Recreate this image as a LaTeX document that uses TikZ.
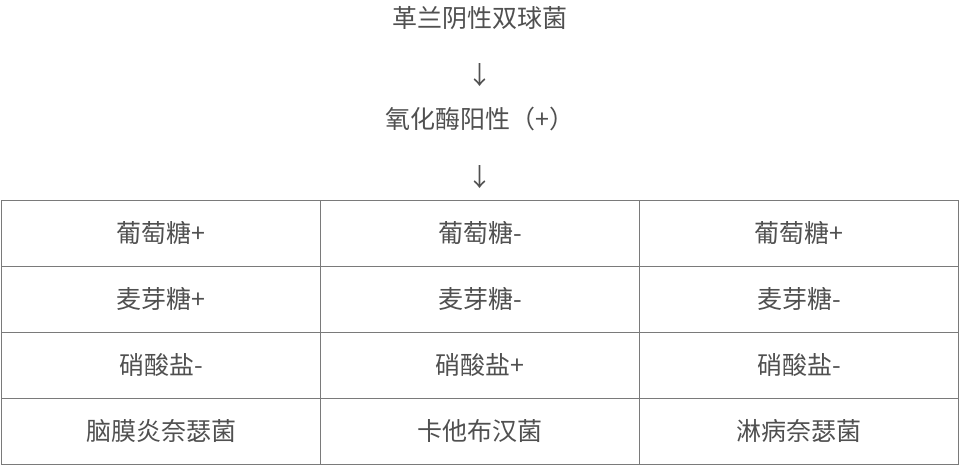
\documentclass[tikz,border=0pt]{standalone}
\usepackage{fontspec}
\newfontfamily\cjk{Noto Sans CJK SC}
\definecolor{txt}{HTML}{505050}
\definecolor{rule}{HTML}{7A7A7A}
\tikzset{
  lbl/.style={font=\cjk\fontsize{25}{25}\selectfont, text=txt, inner sep=0pt},
  cell/.style={lbl, draw=rule, line width=1pt, minimum width=319pt, minimum height=66pt, anchor=center}
}
\begin{document}
\begin{tikzpicture}[x=1pt,y=1pt]
\useasboundingbox (0,0) rectangle (960,467);
\fill[white] (0,0) rectangle (960,467);
\node[lbl] (t1) at (480,449) {革兰阴性双球菌};
\node[lbl] (a1) at (480,392) {↓};
\node[lbl] (t2) at (480,348) {氧化酶阳性（+）};
\node[lbl] (a2) at (480,290) {↓};
\node[cell] (c11) at (161,234) {葡萄糖+};
\node[cell] (c12) at (480,234) {葡萄糖-};
\node[cell] (c13) at (799,234) {葡萄糖+};
\node[cell] (c21) at (161,168) {麦芽糖+};
\node[cell] (c22) at (480,168) {麦芽糖-};
\node[cell] (c23) at (799,168) {麦芽糖-};
\node[cell] (c31) at (161,102) {硝酸盐-};
\node[cell] (c32) at (480,102) {硝酸盐+};
\node[cell] (c33) at (799,102) {硝酸盐-};
\node[cell] (c41) at (161,36) {脑膜炎奈瑟菌};
\node[cell] (c42) at (480,36) {卡他布汉菌};
\node[cell] (c43) at (799,36) {淋病奈瑟菌};
\end{tikzpicture}
\end{document}
